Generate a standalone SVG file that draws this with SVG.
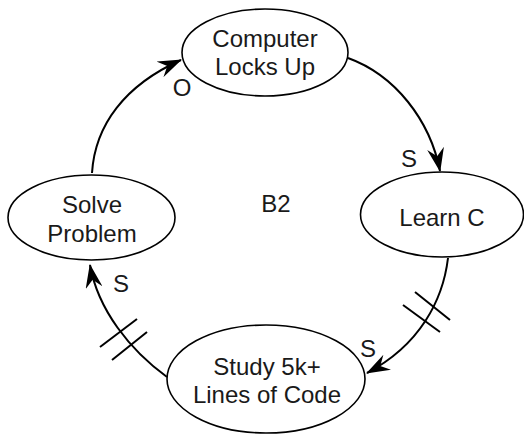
<svg xmlns="http://www.w3.org/2000/svg" width="524" height="437" viewBox="0 0 524 437">
<defs>
<style>
.node ellipse{fill:#fff;stroke:#000;stroke-width:1.6}
text{font-family:"Liberation Sans",Arial,Helvetica,sans-serif;font-size:24px;fill:#1a1a1a;text-anchor:middle}
.edge path{fill:none;stroke:#000;stroke-width:2}
.edge line{stroke:#000;stroke-width:2}
</style>
<marker id="arr" markerUnits="userSpaceOnUse" viewBox="0 0 24 17" refX="23" refY="8.5" markerWidth="24" markerHeight="17" orient="auto">
<path d="M0,0 L24,8.5 L0,17 L8,8.5 Z" fill="#000"/>
</marker>
</defs>
<rect width="524" height="437" fill="#fff"/>
<g id="connectors" class="edge">
<path d="M348,58 C395,75 430,120 440,171" marker-end="url(#arr)"/>
<path d="M448,258 C443,300 420,345 367,373" marker-end="url(#arr)"/>
<line x1="415" y1="292" x2="450" y2="320"/>
<line x1="403" y1="305" x2="440" y2="332"/>
<path d="M167,377 C130,350 98,310 90,265" marker-end="url(#arr)"/>
<line x1="100" y1="347" x2="137" y2="319"/>
<line x1="112" y1="360" x2="147" y2="332"/>
<path d="M92,173 C95,125 125,85 181,60" marker-end="url(#arr)"/>
<text x="409" y="167">S</text>
<text x="368" y="357">S</text>
<text x="121" y="292">S</text>
<text x="182" y="96">O</text>
</g>
<g id="computer" class="node">
<ellipse cx="265" cy="52.5" rx="83" ry="43.5"/>
<text x="265" y="47">Computer</text>
<text x="265" y="75">Locks Up</text>
</g>
<g id="learnc" class="node">
<ellipse cx="442" cy="214.5" rx="81.5" ry="42.5"/>
<text x="442" y="226">Learn C</text>
</g>
<g id="solve" class="node">
<ellipse cx="91.5" cy="217.5" rx="83.5" ry="42.5"/>
<text x="92" y="213">Solve</text>
<text x="92" y="242">Problem</text>
</g>
<g id="study" class="node">
<ellipse cx="266" cy="379" rx="99" ry="54"/>
<text x="267" y="375">Study 5k+</text>
<text x="267" y="403">Lines of Code</text>
</g>
<g id="label-b2">
<text x="276" y="212">B2</text>
</g>
</svg>
